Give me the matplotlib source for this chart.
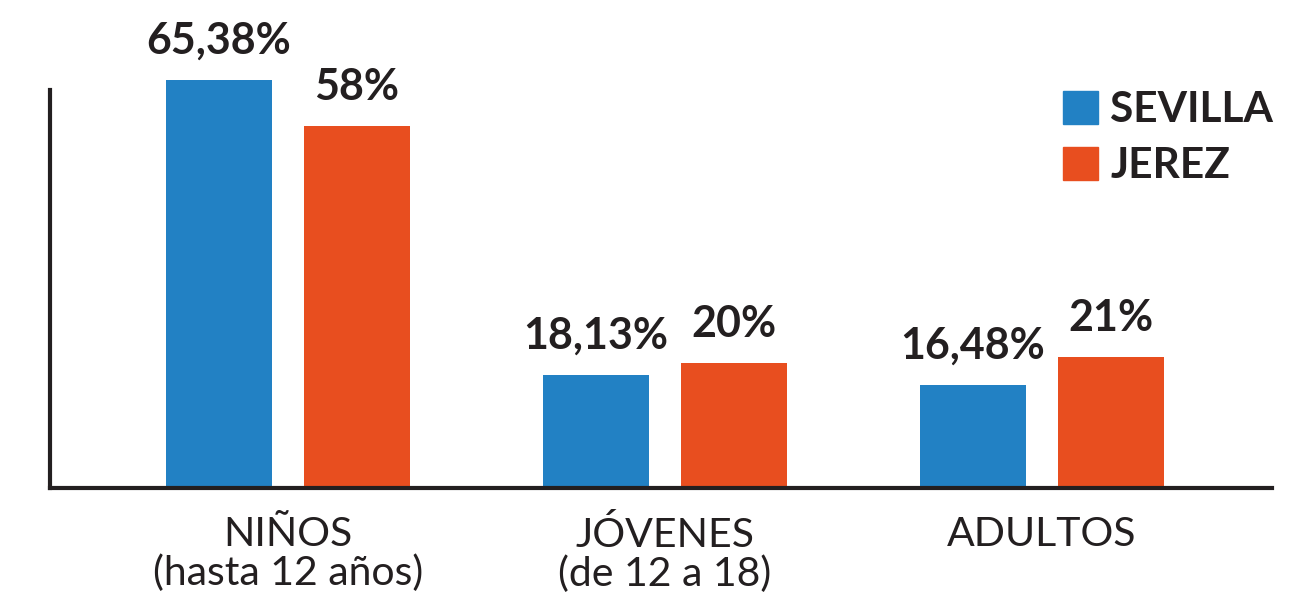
import matplotlib.pyplot as plt
from matplotlib.patches import Patch
import numpy as np

plt.rcParams["font.family"] = ["Lato", "DejaVu Sans"]

categories = ["NIÑOS\n(hasta 12 años)", "JÓVENES\n(de 12 a 18)", "ADULTOS"]
sevilla = [65.38, 18.13, 16.48]
jerez = [58, 20, 21]
sevilla_labels = ["65,38%", "18,13%", "16,48%"]
jerez_labels = ["58%", "20%", "21%"]

blue = "#2281c4"
orange = "#e84e1f"
dark = "#231f20"

fig = plt.figure(figsize=(13.02, 5.98), dpi=100)
ax = fig.add_axes([50 / 1302, 110 / 598, 1222 / 1302, 488 / 598])

x = np.arange(len(categories))
w = 0.281
off = 0.183

b1 = ax.bar(x - off, sevilla, w, color=blue)
b2 = ax.bar(x + off, jerez, w, color=orange)

for bars, labs in [(b1, sevilla_labels), (b2, jerez_labels)]:
    for bar, lab in zip(bars, labs):
        ax.annotate(lab, (bar.get_x() + bar.get_width() / 2, bar.get_height()),
                    xytext=(0, 14), textcoords="offset points",
                    ha="center", va="bottom", fontsize=31, fontweight="bold",
                    color=dark, annotation_clip=False)

ax.set_xlim(-0.631, 2.61)
ax.set_ylim(0, 78.2)
ax.set_xticks(x)
ax.set_xticklabels(categories, fontsize=29.5, color=dark, linespacing=1.05)
ax.tick_params(axis="x", length=0, pad=20)
ax.set_yticks([])

for s in ["top", "right"]:
    ax.spines[s].set_visible(False)
for s in ["left", "bottom"]:
    ax.spines[s].set_linewidth(3)
    ax.spines[s].set_color(dark)
ax.spines["left"].set_bounds(0, 63.8)

handles = [Patch(color=blue, label="SEVILLA"), Patch(color=orange, label="JEREZ")]
leg = ax.legend(handles=handles, loc="upper left", bbox_to_anchor=(1063 / 1302, 1 - 91 / 598),
                bbox_transform=fig.transFigure, frameon=False,
                prop={"size": 30.5, "weight": "bold"},
                handlelength=0.82, handleheight=0.82, handletextpad=0.3,
                labelspacing=0.42, borderaxespad=0, borderpad=0)
for t in leg.get_texts():
    t.set_color(dark)

fig.savefig("out.png", dpi=100)
